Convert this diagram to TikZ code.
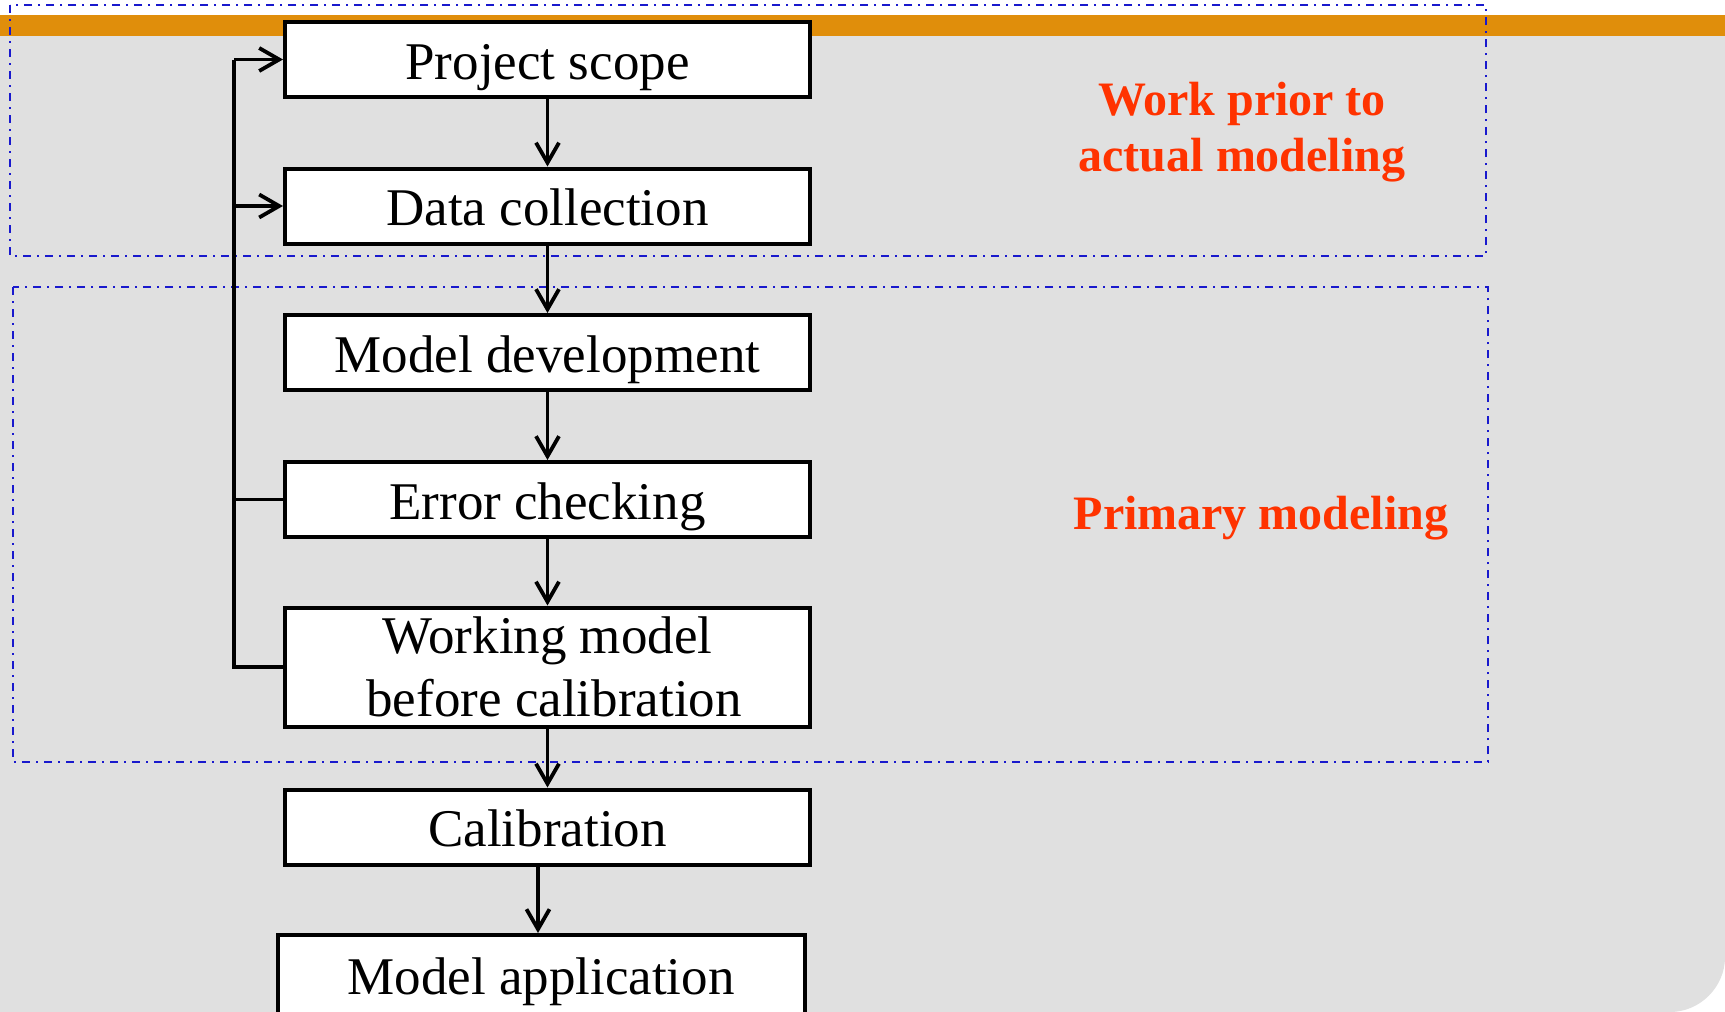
\documentclass[tikz,border=0pt]{standalone}
\usepackage{fontspec}
\setmainfont{Liberation Serif}
\usetikzlibrary{arrows.meta}
\definecolor{bargold}{RGB}{224,142,11}
\definecolor{panelgrey}{RGB}{224,224,224}
\definecolor{zoneblue}{RGB}{25,25,205}
\definecolor{notered}{RGB}{255,51,0}
\tikzset{
  boxbase/.style={draw=black, fill=white, line width=2pt, inner sep=0pt,
    minimum width=262.5pt, minimum height=37.5pt, align=center,
    font=\fontsize{26.5}{31.3}\selectfont},
  stepbox/.style={boxbase, text height=24pt, text depth=4.5pt},
  arr/.style={line width=1.9pt, -{Straight Barb[length=10pt,width=11.5pt,line width=1.9pt]}},
  plain/.style={line width=1.9pt},
  zone/.style={draw=zoneblue, line width=0.65pt, dash pattern=on 4pt off 3pt on 1pt off 3pt},
  notetext/.style={text=notered, align=center, font=\fontsize{24}{28}\selectfont\bfseries}
}
\begin{document}
\begin{tikzpicture}[x=0.5pt, y=-0.5pt]
\useasboundingbox (0,0) rectangle (1725,1012);
\clip (0,0) rectangle (1725,1012);
% background
\fill[white] (0,0) rectangle (1725,1012);
\fill[panelgrey] (0,36) -- (1725,36) -- (1725,957) .. controls (1725,987) and (1700,1012) .. (1670,1012) -- (0,1012) -- cycle;
\fill[bargold] (0,15) rectangle (1725,36);
% zones
\draw[zone] (10,5) rectangle (1486,256);
\draw[zone] (13,287) rectangle (1488,762);
% boxes
\node[stepbox] (scope) at (547.5,59.5) {Project scope};
\node[stepbox] (data) at (547.5,206) {Data collection};
\node[stepbox] (dev) at (547.5,352.5) {Model development};
\node[stepbox] (err) at (547.5,499.5) {Error checking};
\node[boxbase, minimum height=59.5pt] (work) at (547.5,667) {Working model\\\hspace*{6.6pt}before calibration};
\node[stepbox] (calib) at (547.5,827) {Calibration};
\node[stepbox, minimum width=263.5pt, minimum height=40pt] (app) at (541,975) {Model application};
% labels
\node[notetext] (prior) at (1242,132) {Work prior to\\actual modeling};
\node[notetext] (primary) at (1261,518) {Primary modeling};
% main arrows
\draw[arr] (scope) -- (data);
\draw[arr] (data) -- (dev);
\draw[arr] (dev) -- (err);
\draw[arr] (err) -- (work);
\draw[arr] (work) -- (calib);
\coordinate (lastx) at (538,0);
\draw[arr] (calib.south -| lastx) -- (app.north -| lastx);
% feedback loop
\coordinate (loopx) at (234,0);
\draw[plain] (work.west) -- (work.west -| loopx) -- (scope.west -| loopx);
\draw[plain] (err.west) -- (err.west -| loopx);
\draw[arr] (scope.west -| loopx) -- (scope.west);
\draw[arr] (data.west -| loopx) -- (data.west);
\end{tikzpicture}
\end{document}
